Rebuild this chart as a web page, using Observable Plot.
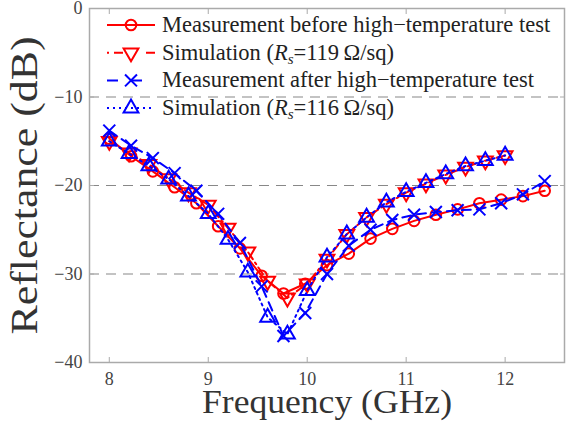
<!DOCTYPE html>
<html><head><meta charset="utf-8">
<script src="https://cdn.jsdelivr.net/npm/d3@7"></script>
<script src="https://cdn.jsdelivr.net/npm/@observablehq/plot@0.6"></script>
<style>
html,body{margin:0;padding:0;background:#fff;}
#chart{width:576px;height:427px;}
</style></head><body><div id="chart"></div>
<script>
// Measured frequencies (GHz) and simulated frequencies (GHz)
const freqMeas = [8.00, 8.22, 8.44, 8.66, 8.88, 9.10, 9.32, 9.54, 9.76, 9.98, 10.20, 10.42, 10.64, 10.86, 11.08, 11.30, 11.52, 11.74, 11.96, 12.18, 12.40];
const freqSim = [8.0, 8.2, 8.4, 8.6, 8.8, 9.0, 9.2, 9.4, 9.6, 9.8, 10.0, 10.2, 10.4, 10.6, 10.8, 11.0, 11.2, 11.4, 11.6, 11.8, 12.0];
// Reflectance (dB)
const measBefore = [-14.7, -16.7, -18.4, -20.2, -22.0, -24.6, -27.1, -30.2, -32.2, -31.1, -29.0, -27.7, -26.0, -24.9, -24.0, -23.3, -22.7, -22.0, -21.6, -21.2, -20.6];
const sim119 = [-15.0, -16.3, -17.6, -19.2, -20.8, -22.2, -24.8, -27.5, -30.8, -32.7, -31.1, -28.3, -25.5, -23.6, -22.1, -20.8, -19.8, -18.8, -17.9, -17.2, -16.6];
const measAfter = [-13.8, -15.5, -16.9, -18.6, -20.6, -23.2, -26.5, -31.4, -37.0, -34.4, -30.0, -26.8, -25.0, -23.9, -23.3, -23.0, -22.8, -22.7, -22.0, -21.0, -19.5];
const sim116 = [-15.0, -16.4, -17.8, -19.3, -21.2, -23.2, -26.1, -29.8, -34.9, -36.8, -31.9, -28.1, -25.5, -23.6, -21.9, -20.7, -19.7, -18.7, -17.8, -17.2, -16.6];

const xTicks = [8, 9, 10, 11, 12];
const yTicks = [0, -10, -20, -30, -40];
const gridValues = [-10, -20, -30];
const seriesNames = [
  "Measurement before high\u2212temperature test",
  "Simulation (Rs=119\u2009\u03A9/sq)",
  "Measurement after high\u2212temperature test",
  "Simulation (Rs=116\u2009\u03A9/sq)"
];

const FONT = "'Liberation Serif', 'Times New Roman', serif";
const RED = "#ff0000", BLUE = "#0000ff";

const series = [
  {x: freqMeas, y: measBefore, color: RED,  dash: null,      symbol: "circle",   rotate: 0,   r: 5.3},
  {x: freqSim,  y: sim119,     color: RED,  dash: "8,4,2,4", symbol: "triangle", rotate: 180, r: 5.5},
  {x: freqMeas, y: measAfter,  color: BLUE, dash: "9,6",     symbol: "times",    rotate: 0,   r: 5.5},
  {x: freqSim,  y: sim116,     color: BLUE, dash: "2,4",     symbol: "triangle", rotate: 0,   r: 5.5}
];
const legendDash = [null, "2,5,9,23,9,5", "11,13", "2,4"];

const dataMarks = [];
series.forEach((s, k) => {
  const rows = s.x.map((f, i) => ({f, v: s.y[i]}));
  dataMarks.push(Plot.line(rows, {x: "f", y: "v", stroke: s.color, strokeWidth: 2, strokeDasharray: s.dash}));
  dataMarks.push(Plot.dot(rows, {x: "f", y: "v", symbol: s.symbol, r: s.r, rotate: s.rotate, stroke: s.color, strokeWidth: 2, fill: "none"}));
});

const minusFmt = d => d < 0 ? "\u2212" + (-d) : String(d);

const plot = Plot.plot({
  width: 576,
  height: 427,
  marginLeft: 89,
  marginRight: 12,
  marginTop: 8,
  marginBottom: 65,
  style: {fontFamily: FONT, background: "#fff", overflow: "visible"},
  x: {domain: [7.8, 12.6]},
  y: {domain: [-40, 0]},
  marks: [
    Plot.gridY(gridValues, {stroke: "#888", strokeOpacity: 1, strokeWidth: 1.2, strokeDasharray: "10,7"}),
    Plot.frame({stroke: "#aaa", strokeWidth: 1.5}),
    Plot.axisX(xTicks, {anchor: "bottom", tickSize: -5, tickPadding: 15, fontSize: 18, fill: "#444", stroke: "#aaa", label: null, tickFormat: d => String(d)}),
    Plot.axisX(xTicks, {anchor: "top", tickSize: -5, stroke: "#aaa", label: null, tickFormat: () => ""}),
    Plot.axisY(yTicks, {anchor: "left", tickSize: -5, tickPadding: 12, fontSize: 18, fill: "#444", stroke: "#aaa", label: null, tickFormat: minusFmt}),
    Plot.axisY(yTicks, {anchor: "right", tickSize: -5, stroke: "#aaa", label: null, tickFormat: () => ""}),
    Plot.text(["Frequency (GHz)"], {frameAnchor: "bottom", textAnchor: "middle", lineAnchor: "middle", dy: 40, fontSize: 33, fill: "#333"}),
    Plot.text(["Reflectance (dB)"], {frameAnchor: "left", textAnchor: "middle", lineAnchor: "middle", dx: -65, rotate: -90, fontSize: 38, fill: "#333"}),
    ...dataMarks
  ]
});

document.getElementById("chart").appendChild(plot);

// stretch axis labels to match reference lengths
const svg = d3.select(plot);
svg.selectAll("text").each(function() {
  const t = d3.select(this);
  const s = t.text();
  if (s === "Reflectance (dB)") t.attr("textLength", 298).attr("lengthAdjust", "spacingAndGlyphs");
  if (s === "Frequency (GHz)") t.attr("textLength", 250).attr("lengthAdjust", "spacingAndGlyphs");
});

// Legend (inside the plot, top-left)
const lg = svg.append("g").attr("font-family", FONT).attr("font-size", 22.5).attr("text-anchor", "start");
const x0 = 107, x1 = 155, xm = 131, xt = 162, rowTop = 25, rowStep = 27.7;
series.forEach((s, i) => {
  const yy = rowTop + i * rowStep;
  lg.append("line").attr("x1", x0).attr("x2", x1).attr("y1", yy).attr("y2", yy)
    .attr("stroke", s.color).attr("stroke-width", 2)
    .attr("stroke-dasharray", legendDash[i]);
  const sym = s.symbol === "circle" ? d3.symbolCircle : s.symbol === "times" ? d3.symbolTimes : d3.symbolTriangle;
  lg.append("path").attr("d", d3.symbol(sym, Math.PI * s.r * s.r)())
    .attr("transform", `translate(${xm},${yy}) rotate(${s.rotate})`)
    .attr("fill", "none").attr("stroke", s.color).attr("stroke-width", 2);
  const txt = lg.append("text").attr("x", xt).attr("y", yy + 7).attr("fill", "#222");
  const name = seriesNames[i];
  if (name.startsWith("Simulation")) {
    const m = name.match(/^(Simulation \()Rs(=.*)$/);
    txt.append("tspan").text(m[1]);
    txt.append("tspan").attr("font-style", "italic").text("R");
    txt.append("tspan").attr("font-style", "italic").attr("font-size", 15).attr("dy", 4).text("s");
    txt.append("tspan").attr("dy", -4).text(m[2]);
  } else {
    txt.text(name);
  }
});
</script>
</body></html>
